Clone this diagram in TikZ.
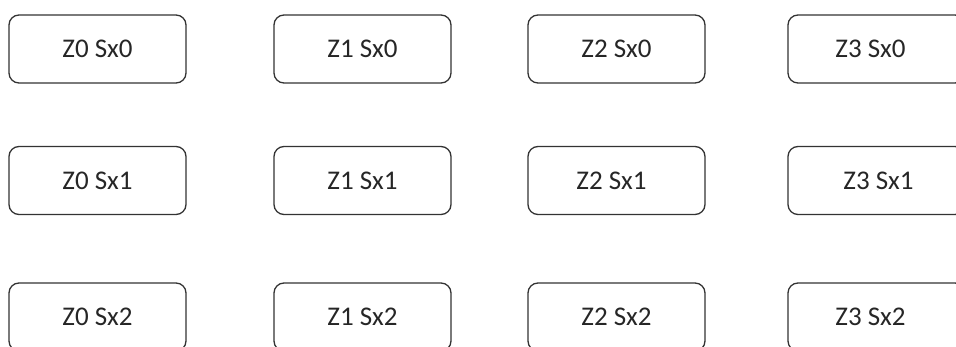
\documentclass[tikz,border=0pt]{standalone}
\usepackage{fontspec}
\setmainfont{Carlito}
\begin{document}
\begin{tikzpicture}[x=1pt,y=-1pt,
  cell/.style={draw=black!80, line width=1.3pt, rounded corners=10pt, minimum width=177pt, minimum height=68pt, inner sep=0pt, font=\fontsize{27}{31}\selectfont, text=black!85}]
\useasboundingbox (0,0) rectangle (956,347);
\clip (0,0) rectangle (956,347);
\foreach \c/\x in {0/97.5,1/362.5,2/616.5,3/876.5}{
  \foreach \r/\y in {0/49,1/180.5,2/317}{
    \pgfmathsetmacro{\k}{(\c==3 && \r!=1) ? 12 : ((\c==2 && \r==1) ? 10 : ((\c==3 && \r==1) ? -4 : 0))}
    \node[cell] (z\c s\r) at (\x,\y) {\kern-\k pt Z\c{} Sx\r};
  }
}
\end{tikzpicture}
\end{document}
